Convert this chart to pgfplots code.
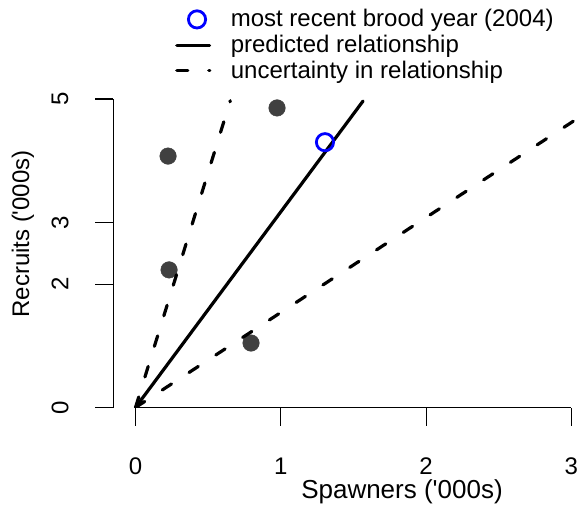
\documentclass[border=0pt]{standalone}
\usepackage{fontspec}
\setmainfont{Liberation Sans}[Ligatures=TeXOff]
\usepackage{pgfplots}
\pgfplotsset{compat=1.18}
\definecolor{darkpt}{HTML}{404040}
\newcommand{\fs}{\fontsize{24bp}{28bp}\selectfont}
\begin{document}
\begin{tikzpicture}
\begin{axis}[
  name=ax, at={(0,0)}, anchor=south west,
  scale only axis, width=463.7bp, height=308.5bp,
  xmin=-0.1528, xmax=3.0385, ymin=0, ymax=5,
  axis x line*=bottom, axis y line*=left,
  x axis line style={draw=none},
  y axis line style={line width=1.2bp, -},
  xtick={0,1,2,3}, ytick={0,2,3,5},
  minor tick num=0,
  tick align=outside, major tick length=18bp,
  tick style={line width=1.2bp, black},
  xticklabel style={anchor=center}, xticklabel shift=40.5bp,
  yticklabel style={anchor=center, rotate=90}, yticklabel shift=35.3bp,
  /pgf/number format/assume math mode=true,
  tick label style={font=\fs},
  label style={font=\fs},
  xlabel={Spawners ('000s)},
  xlabel style={at={(axis description cs:0.6226,-0.2739)}, anchor=center, font=\fontsize{26bp}{30bp}\selectfont},
  ylabel={Recruits ('000s)},
  ylabel style={at={(axis description cs:-0.1947,0.5624)}, anchor=center},
  clip mode=individual,
  legend style={at={(axis description cs:0.1331,1.3003)}, anchor=north west,
    draw=none, fill=none, inner sep=0pt, row sep=0pt, column sep=19.4bp, font=\fs,
    nodes={inner sep=0pt, text height=20.35bp, text depth=5.35bp}},
  legend cell align=left,
]
\addlegendimage{legend image code/.code={\path[draw=none, fill=none] (0bp,-3bp) rectangle (36bp,3bp);
  \draw[blue, line width=2.8bp, mark=o, mark size=8.6bp, mark options={fill=white}] plot coordinates {(21.7bp,0bp)};}}
\addlegendentry{most recent brood year (2004)}
\addlegendimage{legend image code/.code={\path[draw=none, fill=none] (0bp,-3bp) rectangle (36bp,3bp);
  \draw[black, fill=none, line width=3.2bp, line cap=round] (1.5bp,0bp) -- (34.2bp,0bp);}}
\addlegendentry{predicted relationship}
\addlegendimage{legend image code/.code={\path[draw=none, fill=none] (0bp,-3bp) rectangle (36bp,3bp);
  \draw[black, fill=none, line width=3.2bp, line cap=round, dash pattern=on 11bp off 21bp] (1.5bp,0bp) -- (34.5bp,0bp);}}
\addlegendentry{uncertainty in relationship}

\addplot[forget plot, only marks, mark=*, mark size=8.3bp, color=darkpt, mark options={draw=none}]
  coordinates {(0.224,4.075) (0.974,4.855) (0.231,2.23) (0.795,1.045)};
\addplot[forget plot, black, line width=3.2bp, line cap=round] coordinates {(0,0) (1.566,4.967)};
\addplot[forget plot, black, line width=3.2bp, line cap=round, dash pattern=on 11bp off 21bp]
  coordinates {(0,0) (0.6525,4.972)};
\addplot[forget plot, black, line width=3.2bp, line cap=round, dash pattern=on 11bp off 21bp]
  coordinates {(0,0) (3.2,4.928)};
\addplot[forget plot, only marks, mark=o, mark size=8.6bp, blue, line width=2.8bp, mark options={fill=white}]
  coordinates {(1.304,4.30)};
\draw[line width=1.2bp] (axis cs:0,0) -- (axis cs:3,0);
\end{axis}
\pgfresetboundingbox
\useasboundingbox ([shift={(-113.3bp,-107.5bp)}]ax.south west) rectangle ([shift={(463.7bp,407.5bp)}]ax.south west);
\end{tikzpicture}
\end{document}
